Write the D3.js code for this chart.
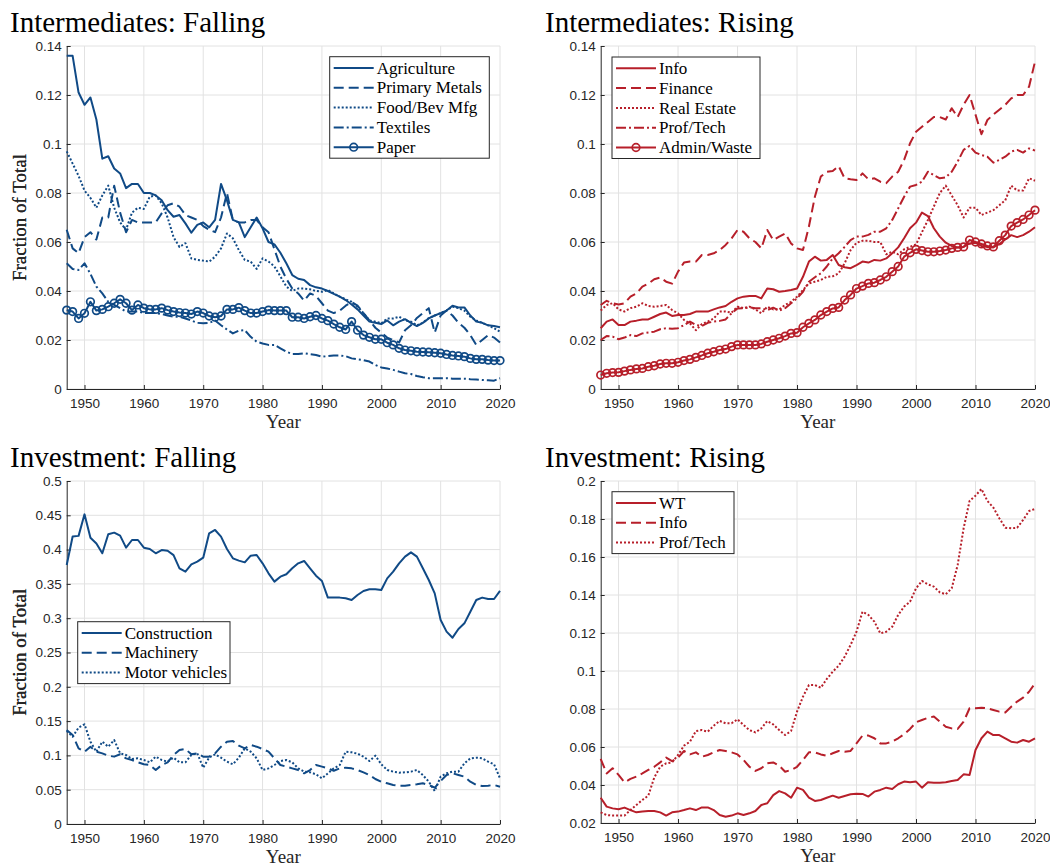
<!DOCTYPE html>
<html>
<head>
<meta charset="utf-8">
<script src="https://cdn.jsdelivr.net/npm/d3@7"></script>
<style>
  body { margin: 0; background: #fff; }
  svg { display: block; }
</style>
</head>
<body>
<div id="chart"></div>
<script>
// years 1947-2020, one value per year
const years = d3.range(1947, 2021);

// Intermediates: Falling
const agriculture = [0.136,0.136,0.121,0.116,0.119,0.110,0.094,0.095,0.090,0.088,
  0.082,0.0837,0.0837,0.080,0.080,0.079,0.077,0.073,0.0703,0.071,
  0.0676,0.0638,0.067,0.068,0.066,0.069,0.0837,0.077,0.069,0.068,
  0.062,0.066,0.070,0.0656,0.060,0.059,0.0556,0.0513,0.0465,0.045,
  0.0445,0.0424,0.0415,0.041,0.040,0.0388,0.0377,0.0363,0.0345,0.0325,
  0.030,0.0275,0.027,0.0265,0.028,0.026,0.0275,0.0285,0.027,0.0257,
  0.027,0.0288,0.030,0.031,0.032,0.034,0.0333,0.0333,0.030,0.0275,
  0.027,0.026,0.0257,0.0252];
const primaryMetals = [0.065,0.0574,0.0554,0.062,0.064,0.061,0.070,0.070,0.083,0.072,
  0.064,0.069,0.068,0.068,0.068,0.068,0.0717,0.075,0.0758,0.0744,
  0.071,0.070,0.069,0.0665,0.065,0.064,0.070,0.080,0.069,0.068,
  0.068,0.069,0.069,0.066,0.064,0.057,0.050,0.045,0.041,0.039,
  0.036,0.039,0.038,0.035,0.032,0.031,0.032,0.034,0.0355,0.034,
  0.031,0.028,0.025,0.023,0.021,0.020,0.019,0.024,0.026,0.029,
  0.031,0.033,0.023,0.030,0.032,0.030,0.027,0.025,0.022,0.018,
  0.020,0.022,0.021,0.019];
const foodBev = [0.097,0.092,0.087,0.081,0.078,0.074,0.079,0.083,0.074,0.068,
  0.065,0.072,0.074,0.0735,0.0785,0.079,0.0758,0.070,0.062,0.058,
  0.0595,0.0533,0.0527,0.0524,0.052,0.054,0.0574,0.0635,0.0615,0.0567,
  0.0527,0.052,0.049,0.0533,0.052,0.050,0.046,0.0418,0.040,0.041,
  0.041,0.0407,0.040,0.0397,0.0404,0.039,0.0377,0.0366,0.0356,0.0336,
  0.031,0.028,0.0275,0.0268,0.0288,0.0288,0.0295,0.028,0.0275,0.026,
  0.027,0.029,0.030,0.031,0.032,0.0336,0.033,0.032,0.0295,0.028,
  0.027,0.026,0.0248,0.0234];
const textiles = [0.0513,0.049,0.0486,0.0513,0.047,0.0418,0.039,0.0356,0.0343,0.033,
  0.0316,0.0316,0.0316,0.031,0.031,0.031,0.0306,0.030,0.0295,0.0295,
  0.0288,0.028,0.027,0.0268,0.027,0.028,0.026,0.0243,0.0227,0.0238,
  0.024,0.0213,0.0193,0.0186,0.018,0.018,0.0166,0.0152,0.0143,0.0143,
  0.0146,0.0142,0.0139,0.0132,0.0134,0.0137,0.0137,0.0134,0.0125,0.0121,
  0.0118,0.0112,0.0098,0.0088,0.0084,0.0078,0.0071,0.0064,0.0061,0.0053,
  0.0048,0.0044,0.0044,0.0044,0.0044,0.0042,0.0042,0.0042,0.004,0.0039,
  0.0037,0.0036,0.0034,0.0044];
const paper = [0.0322,0.0316,0.0288,0.0309,0.0356,0.032,0.0325,0.0336,0.035,0.0366,
  0.035,0.0322,0.0343,0.033,0.0325,0.0325,0.033,0.0322,0.0316,0.0312,
  0.031,0.0306,0.0316,0.031,0.0298,0.0293,0.0298,0.0325,0.0325,0.0332,
  0.032,0.031,0.031,0.0316,0.0322,0.032,0.032,0.032,0.0293,0.0293,
  0.0288,0.0295,0.030,0.0288,0.0279,0.0265,0.0252,0.0243,0.0275,0.024,
  0.022,0.0211,0.0203,0.0203,0.0189,0.018,0.0166,0.0159,0.0156,0.0152,
  0.0151,0.015,0.0148,0.0146,0.0141,0.0137,0.0135,0.0132,0.0125,0.0121,
  0.0121,0.0118,0.0116,0.0116];

// Intermediates: Rising
const infoInt = [0.0248,0.0275,0.0284,0.0261,0.0261,0.0275,0.0279,0.0284,0.0284,0.0295,
  0.0306,0.0312,0.0298,0.0302,0.0302,0.0306,0.0316,0.0316,0.0316,0.0325,
  0.0333,0.0339,0.0356,0.037,0.0377,0.038,0.038,0.037,0.041,0.0407,
  0.0397,0.040,0.0404,0.041,0.0458,0.052,0.054,0.0524,0.0527,0.0547,
  0.0506,0.0497,0.0493,0.0506,0.052,0.0516,0.0527,0.0524,0.0533,0.0554,
  0.0578,0.0615,0.0656,0.0679,0.072,0.0706,0.0656,0.0622,0.0597,0.0584,
  0.0578,0.058,0.0594,0.0597,0.0584,0.058,0.0578,0.0592,0.061,0.0628,
  0.062,0.0628,0.0642,0.066];
const finance = [0.0343,0.036,0.035,0.0345,0.035,0.0377,0.039,0.0418,0.043,0.0448,
  0.0455,0.0438,0.043,0.0479,0.0516,0.052,0.052,0.0547,0.0547,0.0554,
  0.0567,0.0588,0.0615,0.0649,0.0642,0.0615,0.060,0.0574,0.0649,0.0608,
  0.0622,0.0635,0.0594,0.0574,0.0567,0.0663,0.0785,0.0867,0.0887,0.089,
  0.091,0.086,0.0856,0.0853,0.088,0.0856,0.086,0.0846,0.084,0.0867,
  0.0887,0.0935,0.1003,0.105,0.107,0.109,0.111,0.111,0.110,0.1146,
  0.111,0.116,0.120,0.112,0.104,0.1098,0.112,0.114,0.116,0.1186,
  0.120,0.120,0.1234,0.1336];
const realEstate = [0.032,0.0343,0.035,0.0325,0.0316,0.033,0.0336,0.035,0.0339,0.0336,
  0.0339,0.0343,0.0322,0.0309,0.0282,0.0268,0.024,0.0265,0.0275,0.0288,
  0.0316,0.0316,0.0312,0.0336,0.033,0.0336,0.0325,0.0309,0.0336,0.0325,
  0.0325,0.0343,0.0356,0.0377,0.0404,0.0431,0.0438,0.0445,0.0458,0.046,
  0.0472,0.0513,0.0567,0.0597,0.0605,0.0605,0.060,0.060,0.055,0.056,
  0.055,0.057,0.058,0.059,0.064,0.069,0.0745,0.080,0.083,0.079,
  0.075,0.070,0.074,0.074,0.071,0.072,0.073,0.075,0.077,0.083,
  0.081,0.081,0.086,0.085];
const profTechInt = [0.020,0.0216,0.0214,0.0203,0.021,0.022,0.0216,0.0227,0.0231,0.0234,
  0.0244,0.0248,0.0246,0.0248,0.0261,0.0275,0.0261,0.0257,0.027,0.0275,
  0.0278,0.0284,0.0309,0.0329,0.033,0.0333,0.033,0.033,0.0322,0.0332,
  0.032,0.033,0.035,0.037,0.0397,0.0438,0.0456,0.0472,0.050,0.0533,
  0.0554,0.058,0.0608,0.0622,0.0622,0.0629,0.0642,0.0642,0.0656,0.069,
  0.0737,0.0785,0.0826,0.0833,0.0846,0.0887,0.0873,0.086,0.0864,0.0887,
  0.0928,0.0976,0.0992,0.0965,0.0955,0.0948,0.0924,0.0935,0.0948,0.0969,
  0.0976,0.0965,0.0982,0.0973];
const adminWaste = [0.0057,0.0064,0.0067,0.0068,0.0073,0.0078,0.0082,0.0084,0.0091,0.0095,
  0.0102,0.0105,0.0105,0.0109,0.0116,0.0121,0.0129,0.0137,0.0146,0.0152,
  0.0159,0.0163,0.0173,0.018,0.018,0.018,0.018,0.0184,0.0193,0.020,
  0.0207,0.0216,0.0227,0.023,0.0252,0.0268,0.0282,0.0302,0.0316,0.0329,
  0.0333,0.0363,0.0384,0.041,0.042,0.0431,0.0434,0.0445,0.0458,0.0479,
  0.050,0.054,0.0556,0.057,0.0565,0.056,0.056,0.0563,0.0567,0.0574,
  0.0578,0.058,0.0608,0.060,0.0592,0.0584,0.058,0.0605,0.0628,0.0665,
  0.0679,0.0692,0.071,0.073];

// Investment: Falling
const construction = [0.3775,0.419,0.42,0.4514,0.4174,0.409,0.3946,0.4223,0.4247,0.4203,
  0.4028,0.414,0.414,0.4028,0.4009,0.3946,0.3994,0.3984,0.392,0.3727,
  0.3678,0.3785,0.3824,0.3882,0.4237,0.4286,0.4189,0.4009,0.3873,0.3839,
  0.3814,0.3912,0.3921,0.38,0.3654,0.3533,0.3605,0.364,0.3727,0.38,
  0.3834,0.3727,0.362,0.3542,0.33,0.33,0.33,0.329,0.3265,0.3338,
  0.3397,0.3421,0.3421,0.3411,0.3581,0.3678,0.38,0.3897,0.396,0.3897,
  0.3727,0.3557,0.3362,0.2974,0.2804,0.2716,0.2843,0.2925,0.3095,0.3265,
  0.33,0.328,0.328,0.3397];
const machinery = [0.137,0.1297,0.1103,0.1054,0.1127,0.1054,0.103,0.0996,0.0982,0.1016,
  0.0957,0.0933,0.0899,0.087,0.086,0.0787,0.086,0.0899,0.1006,0.1079,
  0.1093,0.1016,0.103,0.0982,0.0982,0.103,0.1127,0.12,0.121,0.1142,
  0.1103,0.1152,0.1127,0.1093,0.1054,0.0957,0.086,0.0836,0.0811,0.0787,
  0.0739,0.0787,0.086,0.0836,0.0811,0.0777,0.0811,0.0821,0.0811,0.0787,
  0.0753,0.0714,0.0656,0.0617,0.0593,0.0569,0.0559,0.0559,0.0569,0.0578,
  0.0593,0.0569,0.053,0.0627,0.0714,0.0739,0.0714,0.069,0.0617,0.0569,
  0.0554,0.0559,0.0569,0.0544];
const motorVehicles = [0.1356,0.1273,0.1404,0.1453,0.12,0.1054,0.12,0.1127,0.1224,0.103,
  0.1006,0.0948,0.0957,0.0933,0.0899,0.0982,0.0933,0.0909,0.0967,0.0899,
  0.0899,0.1006,0.103,0.0821,0.0967,0.1016,0.0967,0.0909,0.087,0.0967,
  0.1103,0.1054,0.0957,0.0787,0.0811,0.086,0.0918,0.0933,0.0899,0.0811,
  0.0763,0.0753,0.0724,0.0666,0.0739,0.0811,0.086,0.1054,0.1045,0.1025,
  0.0982,0.0918,0.0996,0.087,0.0787,0.0763,0.0748,0.0753,0.0763,0.0787,
  0.0714,0.0617,0.0481,0.069,0.0739,0.0763,0.0763,0.0884,0.0957,0.0967,
  0.0957,0.0909,0.087,0.0666];

// Investment: Rising
const wt = [0.0333,0.0286,0.0277,0.0272,0.0281,0.0268,0.0256,0.026,0.0263,0.0263,
  0.0256,0.0239,0.0256,0.026,0.0268,0.0277,0.0268,0.0282,0.0282,0.0268,
  0.0242,0.0233,0.0239,0.0251,0.0242,0.0251,0.0263,0.0295,0.0304,0.0347,
  0.0368,0.0356,0.0333,0.0386,0.0374,0.0333,0.0316,0.0321,0.0333,0.0344,
  0.0333,0.0342,0.0351,0.0354,0.0353,0.0339,0.0365,0.0374,0.0386,0.0379,
  0.0404,0.0418,0.0414,0.0418,0.0386,0.0414,0.0412,0.0412,0.0414,0.0421,
  0.0426,0.0456,0.0453,0.0584,0.0646,0.0681,0.0663,0.0663,0.0646,0.0628,
  0.0623,0.0637,0.0628,0.0646];
const infoInv = [0.0537,0.0461,0.0488,0.0453,0.0414,0.0432,0.0444,0.0461,0.0479,0.0496,
  0.0519,0.0544,0.0526,0.0544,0.0579,0.0561,0.0572,0.0549,0.0558,0.0572,
  0.0584,0.0579,0.0572,0.0561,0.0532,0.0496,0.0474,0.0488,0.0514,0.0519,
  0.0502,0.047,0.0479,0.0496,0.0532,0.0572,0.0572,0.0561,0.0554,0.0567,
  0.0579,0.0575,0.0579,0.0619,0.066,0.066,0.0646,0.0619,0.0619,0.0628,
  0.0646,0.0667,0.0695,0.073,0.0742,0.0754,0.076,0.0733,0.0707,0.0698,
  0.0695,0.0733,0.0804,0.0804,0.0807,0.0804,0.0795,0.0786,0.0782,0.0812,
  0.0839,0.086,0.0891,0.0935];
const profTechInv = [0.0256,0.0242,0.0239,0.0239,0.0239,0.0268,0.0295,0.0321,0.0344,0.0439,
  0.0496,0.0514,0.0519,0.0558,0.0607,0.0628,0.0684,0.0689,0.0681,0.0712,
  0.0737,0.0725,0.0725,0.0746,0.0716,0.0689,0.0677,0.0698,0.0737,0.0719,
  0.0689,0.0663,0.0684,0.0786,0.0865,0.0926,0.0926,0.0912,0.0958,0.0996,
  0.1028,0.1075,0.1137,0.1207,0.1312,0.1295,0.126,0.1198,0.1207,0.1233,
  0.1295,0.1339,0.1365,0.1435,0.1474,0.1456,0.1444,0.1414,0.1404,0.1435,
  0.1558,0.1751,0.1895,0.1923,0.1958,0.1895,0.186,0.1804,0.1754,0.1751,
  0.1754,0.1795,0.1842,0.1853];

// tick values
const xTicks = [1950, 1960, 1970, 1980, 1990, 2000, 2010, 2020];
const yTicksInter = [0, 0.02, 0.04, 0.06, 0.08, 0.1, 0.12, 0.14];
const yTicksInvFall = [0, 0.05, 0.1, 0.15, 0.2, 0.25, 0.3, 0.35, 0.4, 0.45, 0.5];
const yTicksInvRise = [0.02, 0.04, 0.06, 0.08, 0.1, 0.12, 0.14, 0.16, 0.18, 0.2];

const blue = '#104a86';
const red = '#b71f2a';
const axisColor = '#262626';
const gridColor = '#e2e2e2';
const serif = '"Liberation Serif", "Times New Roman", serif';
const sans = '"Liberation Sans", Arial, Helvetica, sans-serif';

// line styles (MATLAB-ish)
const styles = {
  solid: null,
  dash: '10,5',
  dot: '2,2',
  dashdot: '10,3,2,3'
};

const panels = [
  {
    title: 'Intermediates: Falling', color: blue,
    titleX: 10, titleY: 32,
    left: 66.7, top: 46, right: 500, bottom: 389,
    yDomain: [0, 0.14], yTicks: yTicksInter,
    legend: {x: 329.7, y: 56.7, w: 159.6},
    series: [
      {name: 'Agriculture', values: agriculture, style: 'solid'},
      {name: 'Primary Metals', values: primaryMetals, style: 'dash'},
      {name: 'Food/Bev Mfg', values: foodBev, style: 'dot'},
      {name: 'Textiles', values: textiles, style: 'dashdot'},
      {name: 'Paper', values: paper, style: 'solid', marker: true}
    ]
  },
  {
    title: 'Intermediates: Rising', color: red,
    titleX: 545, titleY: 32,
    left: 600.7, top: 46, right: 1035, bottom: 389,
    yDomain: [0, 0.14], yTicks: yTicksInter,
    legend: {x: 612, y: 57, w: 148},
    series: [
      {name: 'Info', values: infoInt, style: 'solid'},
      {name: 'Finance', values: finance, style: 'dash'},
      {name: 'Real Estate', values: realEstate, style: 'dot'},
      {name: 'Prof/Tech', values: profTechInt, style: 'dashdot'},
      {name: 'Admin/Waste', values: adminWaste, style: 'solid', marker: true}
    ]
  },
  {
    title: 'Investment: Falling', color: blue,
    titleX: 10, titleY: 467,
    left: 66.7, top: 481, right: 500, bottom: 824,
    yDomain: [0, 0.5], yTicks: yTicksInvFall,
    legend: {x: 77.7, y: 621.7, w: 152.3},
    series: [
      {name: 'Construction', values: construction, style: 'solid'},
      {name: 'Machinery', values: machinery, style: 'dash'},
      {name: 'Motor vehicles', values: motorVehicles, style: 'dot'}
    ]
  },
  {
    title: 'Investment: Rising', color: red,
    titleX: 545, titleY: 467,
    left: 600.7, top: 481, right: 1035, bottom: 823,
    yDomain: [0.02, 0.2], yTicks: yTicksInvRise,
    legend: {x: 612, y: 491.7, w: 122},
    series: [
      {name: 'WT', values: wt, style: 'solid'},
      {name: 'Info', values: infoInv, style: 'dash'},
      {name: 'Prof/Tech', values: profTechInv, style: 'dot'}
    ]
  }
];

const svg = d3.select('#chart').append('svg')
  .attr('width', 1050)
  .attr('height', 867);

const fmt = d3.format('~g');

panels.forEach(p => {
  const x = d3.scaleLinear().domain([1947, 2020]).range([p.left, p.right]);
  const y = d3.scaleLinear().domain(p.yDomain).range([p.bottom, p.top]);
  const g = svg.append('g');

  // title
  g.append('text')
    .attr('x', p.titleX).attr('y', p.titleY)
    .style('font-family', serif).style('font-size', '29px')
    .attr('fill', '#000')
    .text(p.title);

  // grid
  g.append('g').selectAll('line').data(xTicks).join('line')
    .attr('x1', d => x(d)).attr('x2', d => x(d))
    .attr('y1', p.top).attr('y2', p.bottom)
    .attr('stroke', gridColor).attr('stroke-width', 1);
  g.append('g').selectAll('line').data(p.yTicks).join('line')
    .attr('x1', p.left).attr('x2', p.right)
    .attr('y1', d => y(d)).attr('y2', d => y(d))
    .attr('stroke', gridColor).attr('stroke-width', 1);

  // axes, ticks pointing inward
  const xAxis = g.append('g')
    .attr('transform', `translate(0,${p.bottom})`)
    .call(d3.axisBottom(x).tickValues(xTicks).tickSize(-4).tickSizeOuter(0).tickPadding(9.5).tickFormat(d3.format('d')));
  const yAxis = g.append('g')
    .attr('transform', `translate(${p.left},0)`)
    .call(d3.axisLeft(y).tickValues(p.yTicks).tickSize(-4).tickSizeOuter(0).tickPadding(5).tickFormat(fmt));
  [xAxis, yAxis].forEach(a => {
    a.select('.domain').attr('stroke', axisColor).attr('stroke-width', 1);
    a.selectAll('.tick line').attr('stroke', axisColor);
    a.selectAll('.tick text')
      .attr('fill', axisColor)
      .style('font-family', sans).style('font-size', '13.5px');
  });

  // axis labels
  g.append('text')
    .attr('x', (p.left + p.right) / 2).attr('y', p.bottom + 39)
    .attr('text-anchor', 'middle')
    .style('font-family', serif).style('font-size', '19px')
    .attr('fill', axisColor)
    .text('Year');
  g.append('text')
    .attr('transform', `translate(26,${(p.top + p.bottom) / 2}) rotate(-90)`)
    .attr('text-anchor', 'middle')
    .style('font-family', serif).style('font-size', '19px')
    .attr('fill', axisColor)
    .text('Fraction of Total');

  // lines
  const line = d3.line()
    .x((d, i) => x(years[i]))
    .y(d => y(d));

  p.series.forEach(s => {
    g.append('path')
      .datum(s.values)
      .attr('d', line)
      .attr('fill', 'none')
      .attr('stroke', p.color)
      .attr('stroke-width', 2)
      .attr('stroke-linejoin', 'round')
      .attr('stroke-dasharray', styles[s.style]);
    if (s.marker) {
      g.append('g').selectAll('circle').data(s.values).join('circle')
        .attr('cx', (d, i) => x(years[i]))
        .attr('cy', d => y(d))
        .attr('r', 3.8)
        .attr('fill', 'none')
        .attr('stroke', p.color)
        .attr('stroke-width', 1.7);
    }
  });

  // legend
  const rowH = 19.8;
  const lg = g.append('g').attr('transform', `translate(${p.legend.x},${p.legend.y})`);
  lg.append('rect')
    .attr('width', p.legend.w)
    .attr('height', p.series.length * rowH + 2.5)
    .attr('fill', '#fff')
    .attr('stroke', axisColor)
    .attr('stroke-width', 1);
  p.series.forEach((s, i) => {
    const cy = 11.3 + i * rowH;
    lg.append('line')
      .attr('x1', 4).attr('x2', 44)
      .attr('y1', cy).attr('y2', cy)
      .attr('stroke', p.color).attr('stroke-width', 2)
      .attr('stroke-dasharray', styles[s.style]);
    if (s.marker) {
      lg.append('circle')
        .attr('cx', 24).attr('cy', cy).attr('r', 3.8)
        .attr('fill', 'none').attr('stroke', p.color).attr('stroke-width', 1.7);
    }
    lg.append('text')
      .attr('x', 47).attr('y', cy + 5.7)
      .style('font-family', serif).style('font-size', '17px')
      .attr('fill', '#000')
      .text(s.name);
  });
});
</script>
</body>
</html>
